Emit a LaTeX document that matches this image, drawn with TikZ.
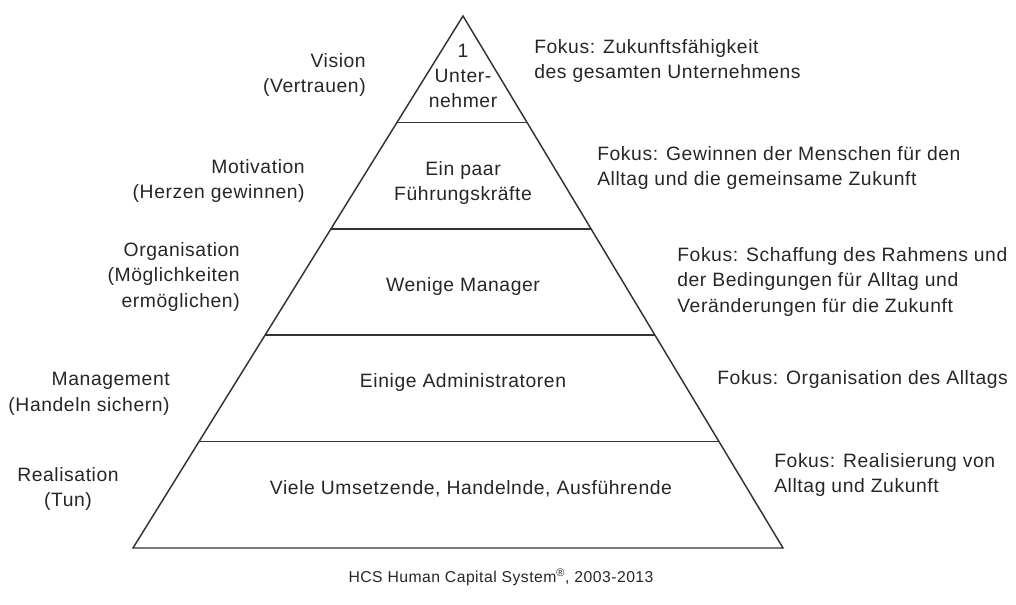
\documentclass[tikz,border=0pt]{standalone}
\usepackage{fontspec}
\setmainfont{Liberation Sans}[LetterSpace=3.0]
\usetikzlibrary{calc}
\begin{document}
\begin{tikzpicture}[x=0.75pt, y=-0.75pt,
leveltext/.style={align=center, inner sep=0pt, text=black!85, font=\fontsize{14.5}{19}\selectfont},
roletext/.style={leveltext, align=right, anchor=east},
focustext/.style={leveltext, align=left, anchor=west},
pyramidline/.style={draw=black!80, line width=1.1pt},
]
\useasboundingbox (0,0) rectangle (1016,605);
%Corners
\coordinate (apex)  at (463,16);
\coordinate (baseL) at (133,548);
\coordinate (baseR) at (783,548);
%Pyramid
\draw[pyramidline] (apex) -- (baseL) -- (baseR) -- cycle;
\foreach \f in {0.2,0.4,0.6,0.8}
  \draw[pyramidline] ($(apex)!\f!(baseL)$) -- ($(apex)!\f!(baseR)$);
%Levels
\node[leveltext] at (463,76)  (levelA) {1\\Unter-\\nehmer};
\node[leveltext] at (463,183) (levelB) {Ein paar\\Führungskräfte};
\node[leveltext] at (463,287) (levelC) {Wenige Manager};
\node[leveltext] at (463,383) (levelD) {Einige Administratoren};
\node[leveltext] at (471,489) (levelE) {Viele Umsetzende, Handelnde, Ausführende};
%Roles
\node[roletext] at (366,75)  (roleA) {Vision\\(Vertrauen)};
\node[roletext] at (305,181) (roleB) {Motivation\\(Herzen gewinnen)};
\node[roletext] at (240,277) (roleC) {Organisation\\(Möglichkeiten\\ermöglichen)};
\node[roletext] at (170,394) (roleD) {Management\\(Handeln sichern)};
\node[leveltext] at (68,489) (roleE) {Realisation\\(Tun)};
%Focus
\node[focustext] at (534,61)  (focusA) {Fokus: Zukunftsfähigkeit\\des gesamten Unternehmens};
\node[focustext] at (597,168) (focusB) {Fokus: Gewinnen der Menschen für den\\Alltag und die gemeinsame Zukunft};
\node[focustext] at (677,282) (focusC) {Fokus: Schaffung des Rahmens und\\der Bedingungen für Alltag und\\Veränderungen für die Zukunft};
\node[focustext] at (717,380) (focusD) {Fokus: Organisation des Alltags};
\node[focustext] at (774,475) (focusE) {Fokus: Realisierung von\\Alltag und Zukunft};
%Source
\node[leveltext, font=\fontsize{11.8}{14}\selectfont] at (501,577) (source) {HCS Human Capital System\textsuperscript{®}, 2003-2013};
\end{tikzpicture}
\end{document}
